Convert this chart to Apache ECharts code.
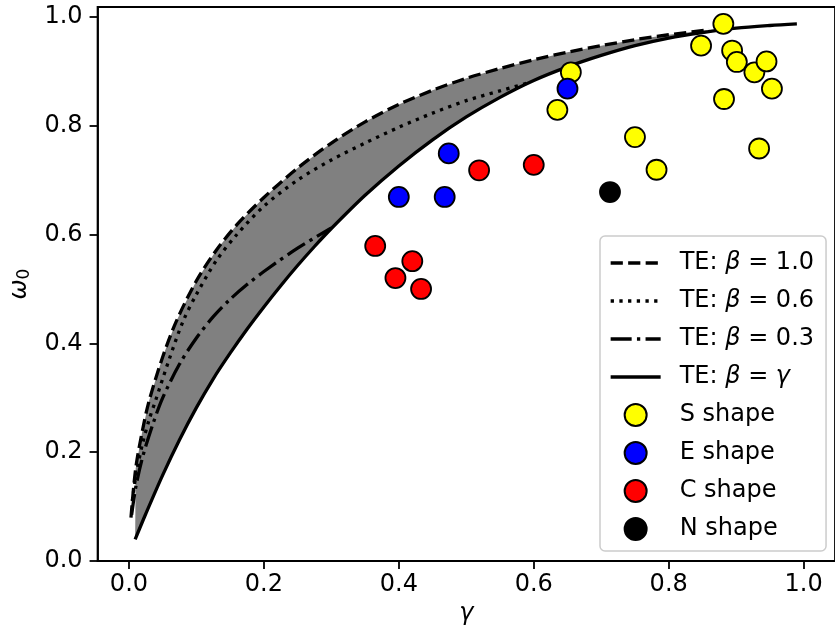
<!DOCTYPE html>
<html>
<head>
<meta charset="utf-8">
<script src="https://cdn.jsdelivr.net/npm/echarts@6/dist/echarts.min.js"></script>
<style>html,body{margin:0;padding:0;background:#fff}#c{width:835px;height:631px}</style>
</head>
<body>
<div id="c"></div>
<script>
// ---- data ----
// TE: beta = 1.0 (dashed)
const g1 = [0.003, 0.01, 0.02, 0.03, 0.05, 0.07, 0.1, 0.13, 0.16, 0.2, 0.25, 0.3, 0.35, 0.4, 0.45, 0.5, 0.55, 0.6, 0.65, 0.7, 0.75, 0.8, 0.86];
const w1 = [0.08, 0.17, 0.24, 0.295, 0.375, 0.44, 0.515, 0.572, 0.618, 0.668, 0.722, 0.768, 0.807, 0.839, 0.865, 0.887, 0.905, 0.921, 0.935, 0.947, 0.958, 0.967, 0.976];
// TE: beta = 0.6 (dotted)
const g2 = [0.005, 0.01, 0.02, 0.03, 0.04, 0.06, 0.08, 0.1, 0.13, 0.16, 0.2, 0.25, 0.3, 0.35, 0.4, 0.45, 0.5, 0.55, 0.59];
const w2 = [0.11, 0.155, 0.215, 0.26, 0.297, 0.372, 0.44, 0.49, 0.553, 0.6, 0.652, 0.70, 0.737, 0.768, 0.797, 0.823, 0.846, 0.864, 0.878];
// TE: beta = 0.3 (dash-dot)
const g3 = [0.004, 0.01, 0.02, 0.035, 0.05, 0.075, 0.1, 0.125, 0.15, 0.175, 0.2, 0.25, 0.3];
const w3 = [0.085, 0.135, 0.19, 0.25, 0.30, 0.362, 0.41, 0.449, 0.481, 0.508, 0.532, 0.575, 0.612];
// TE: beta = gamma (solid)
const g4 = [0.0092, 0.025, 0.05, 0.075, 0.1, 0.125, 0.15, 0.175, 0.2, 0.225, 0.25, 0.275, 0.3, 0.35, 0.4, 0.45, 0.5, 0.55, 0.6, 0.65, 0.7, 0.75, 0.8, 0.85, 0.9, 0.95, 0.99];
const w4 = [0.04, 0.087, 0.158, 0.223, 0.282, 0.335, 0.382, 0.426, 0.467, 0.506, 0.543, 0.578, 0.611, 0.672, 0.726, 0.774, 0.816, 0.852, 0.883, 0.908, 0.929, 0.947, 0.961, 0.971, 0.979, 0.984, 0.987];

// scatter points [gamma, omega0]
const sShape = [[0.881,0.987],[0.848,0.947],[0.894,0.938],[0.901,0.917],[0.927,0.898],[0.945,0.918],[0.953,0.868],[0.882,0.849],[0.750,0.779],[0.782,0.719],[0.934,0.758],[0.655,0.898],[0.635,0.829]];
const eShape = [[0.650,0.868],[0.474,0.749],[0.400,0.669],[0.468,0.669]];
const cShape = [[0.519,0.718],[0.600,0.728],[0.365,0.579],[0.420,0.551],[0.395,0.520],[0.433,0.500]];
const nShape = [[0.713,0.678]];

const xTicks = [0.0, 0.2, 0.4, 0.6, 0.8, 1.0];
const yTicks = [0.0, 0.2, 0.4, 0.6, 0.8, 1.0];
const lineNames = ['TE: β = 1.0', 'TE: β = 0.6', 'TE: β = 0.3', 'TE: β = γ'];
const pointNames = ['S shape', 'E shape', 'C shape', 'N shape'];

// ---- chart ----
const FONT = 'DejaVu Sans';
const LW = 3.3;
const zip = (g, w) => g.map((v, i) => [v, w[i]]);

function lineSeries(name, g, w, type) {
  return {
    name, type: 'line', data: zip(g, w), showSymbol: false, symbol: 'none',
    smooth: 0.3, z: 3, silent: true,
    lineStyle: { color: '#000', width: LW, type: type, cap: 'butt' },
    itemStyle: { color: '#000' }
  };
}
function scatterSeries(name, data, color, z) {
  return {
    name, type: 'scatter', data, symbol: 'circle', symbolSize: 20, z: z, silent: true,
    itemStyle: { color: color, borderColor: '#000', borderWidth: 1.8, opacity: 1 }
  };
}

const fillSeries = {
  type: 'custom', silent: true, z: 1,
  data: [[0.5, 0.5]],
  encode: { x: 0, y: 1 },
  renderItem: function (params, api) {
    const pts = [];
    const gStart = g4[0];
    const gEnd = g1[g1.length - 1];
    pts.push(api.coord([g4[0], w4[0]]));
    for (let i = 0; i < g1.length; i++) {
      if (g1[i] >= gStart) pts.push(api.coord([g1[i], w1[i]]));
    }
    for (let i = g4.length - 1; i >= 0; i--) {
      if (g4[i] <= gEnd) pts.push(api.coord([g4[i], w4[i]]));
    }
    return { type: 'polygon', shape: { points: pts }, style: { fill: '#808080', stroke: null } };
  }
};

const axisCommon = {
  type: 'value',
  splitLine: { show: false },
  axisLine: { show: true, onZero: false, lineStyle: { color: '#000', width: 1.8 } },
  axisTick: { show: true, inside: false, length: 8, lineStyle: { color: '#000', width: 1.8 } },
};

const hiddenSymbol = { color: 'rgba(0,0,0,0)', borderColor: 'rgba(0,0,0,0)', borderWidth: 0, opacity: 0 };
const legendData = lineNames.map(n => ({ name: n, itemStyle: hiddenSymbol })).concat(pointNames.map(n => ({ name: n })));

const chart = echarts.init(document.getElementById('c'), null, { renderer: 'canvas' });
chart.setOption({
  animation: false,
  backgroundColor: '#fff',
  grid: { left: 94, right: -7, top: 7, bottom: 69, show: true, borderColor: '#000', borderWidth: 1.8, backgroundColor: 'transparent' },
  xAxis: Object.assign({}, axisCommon, {
    min: -0.0465, max: 1.0465,
    axisTick: Object.assign({}, axisCommon.axisTick, { customValues: xTicks }),
    axisLabel: { customValues: xTicks, formatter: v => v.toFixed(1), fontFamily: FONT, fontSize: 24, color: '#000', margin: 12 },
    name: 'γ', nameLocation: 'middle', nameGap: 37,
    nameTextStyle: { fontFamily: FONT, fontSize: 24, fontStyle: 'italic', color: '#000' }
  }),
  yAxis: Object.assign({}, axisCommon, {
    min: 0, max: 1.018,
    axisTick: Object.assign({}, axisCommon.axisTick, { customValues: yTicks }),
    axisLabel: { customValues: yTicks, formatter: v => v.toFixed(1), fontFamily: FONT, fontSize: 24, color: '#000', margin: 15 },
    name: '{w|ω}{s|0}', nameLocation: 'middle', nameGap: 58, nameRotate: 90,
    nameTextStyle: {
      color: '#000',
      rich: {
        w: { fontFamily: FONT, fontSize: 24, fontStyle: 'italic', color: '#000' },
        s: { fontFamily: FONT, fontSize: 17, color: '#000', verticalAlign: 'bottom', padding: [10, 0, 0, 0] }
      }
    }
  }),
  legend: {
    data: legendData,
    orient: 'vertical', left: 600, top: 236,
    padding: [14, 12, 9, 9],
    itemWidth: 50, itemHeight: 22, itemGap: 12,
    backgroundColor: '#ffffff', borderColor: '#cccccc', borderWidth: 1.5, borderRadius: 5,
    selectedMode: false,
    lineStyle: { width: LW },
    formatter: name => '{sp| }' + name.replace(/([βγ])/g, '{i|$1}'),
    textStyle: {
      fontFamily: FONT, fontSize: 24, color: '#000', lineHeight: 26,
      rich: {
        sp: { width: 14, fontSize: 24, fontFamily: FONT },
        i: { fontFamily: FONT, fontSize: 24, fontStyle: 'italic', color: '#000' }
      }
    }
  },
  series: [
    fillSeries,
    lineSeries(lineNames[0], g1, w1, [12.2, 5.3]),
    lineSeries(lineNames[1], g2, w2, [3.3, 5.4]),
    lineSeries(lineNames[2], g3, w3, [21, 5.3, 3.3, 5.3]),
    lineSeries(lineNames[3], g4, w4, 'solid'),
    scatterSeries(pointNames[0], sShape, '#ffff00', 4),
    scatterSeries(pointNames[1], eShape, '#0000ff', 5),
    scatterSeries(pointNames[2], cShape, '#ff0000', 6),
    scatterSeries(pointNames[3], nShape, '#000000', 7)
  ]
});
</script>
</body>
</html>
